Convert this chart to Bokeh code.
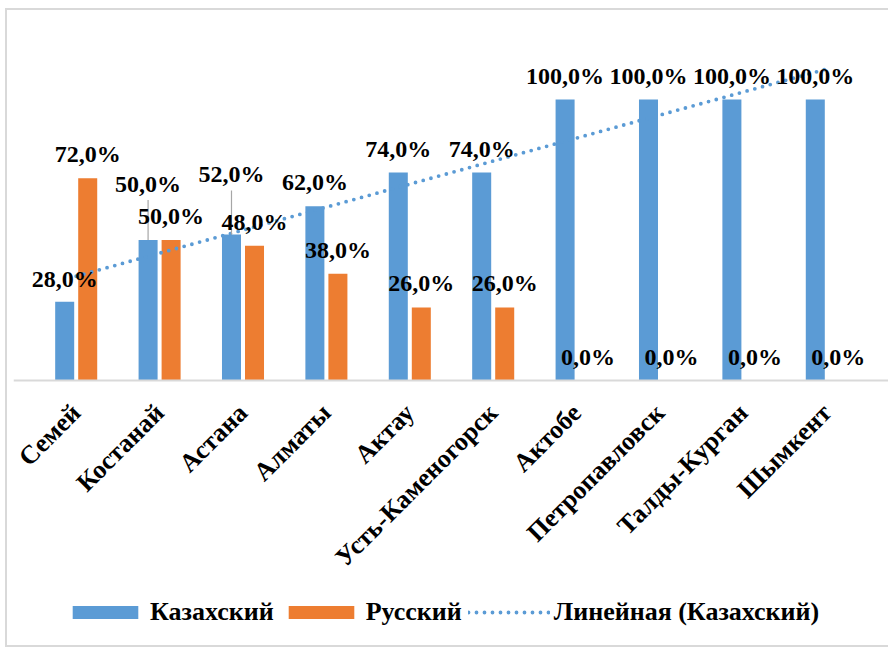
import numpy as np
from bokeh.plotting import figure
from bokeh.models import ColumnDataSource, FactorRange, Range1d, Legend, LegendItem
from bokeh.transform import dodge
from bokeh.core.properties import value
from bokeh.embed import file_html
from bokeh.resources import INLINE

cities = ["Семей", "Костанай", "Астана", "Алматы", "Актау", "Усть-Каменогорск",
          "Актобе", "Петропавловск", "Талды-Курган", "Шымкент"]
kazakh = [28, 50, 52, 62, 74, 74, 100, 100, 100, 100]
russian = [72, 50, 48, 38, 26, 26, 0, 0, 0, 0]

def fmt(v):
    return f"{v:.1f}%".replace(".", ",")

# linear trendline of the Kazakh series (Excel-style, from the data)
xi = np.arange(1, len(kazakh) + 1)
slope, intercept = np.polyfit(xi, kazakh, 1)
trend = list(slope * xi + intercept)

BLUE = "#5B9BD5"
ORANGE = "#ED7D31"
FONT = "Liberation Serif"
PX = 350 / 124.56          # pixels per percent
YMAX = 124.56
YMIN = -265 / PX           # room below the baseline for labels and legend
FRAME_H = int(round((YMAX - YMIN) * PX))
CAT_PX = 83.4
PAD_PX = 21
FRAME_W = int(round(len(cities) * CAT_PX + 2 * PAD_PX))

# label vertical offsets (px, layout only)
kz_off = [-23, -56, -60, -24, -24, -24, -24, -24, -24, -24]
ru_off = [-24] * len(russian)

src = ColumnDataSource(dict(city=cities, kz=kazakh, ru=russian,
                            kz_lab=[fmt(v) for v in kazakh],
                            ru_lab=[fmt(v) for v in russian],
                            kz_off=kz_off, ru_off=ru_off, trend=trend))

xr = FactorRange(*cities, range_padding=PAD_PX / CAT_PX,
                 range_padding_units="absolute")
p = figure(x_range=xr, y_range=Range1d(YMIN, YMAX),
           frame_width=FRAME_W, frame_height=FRAME_H,
           output_backend="svg", toolbar_location=None,
           min_border_left=6, min_border_right=0, min_border_top=20,
           min_border_bottom=0, background_fill_color="white",
           border_fill_color="white", outline_line_color=None,
           styles={"border": "2px solid #d9d9d9", "margin-left": "5px",
                   "margin-top": "8px"})

rb = p.vbar(x=dodge("city", -0.138, range=p.x_range), top="kz", width=0.228,
            source=src, fill_color=BLUE, line_color=None)
rr = p.vbar(x=dodge("city", 0.138, range=p.x_range), top="ru", width=0.228,
            source=src, fill_color=ORANGE, line_color=None)
rt = p.line(x="city", y="trend", source=src, line_color=BLUE, line_width=3.8,
            line_dash="0 8", line_cap="round")

# leader lines for moved labels (Костанай, Астана)
lead_idx = [1, 2]
lead_src = ColumnDataSource(dict(
    city=[cities[i] for i in lead_idx],
    y0=[kazakh[i] for i in lead_idx],
    y1=[kazakh[i] + (-kz_off[i] - 16) / PX for i in lead_idx]))
p.segment(x0=dodge("city", -0.138, range=p.x_range), y0="y0",
          x1=dodge("city", -0.138, range=p.x_range), y1="y1",
          source=lead_src, line_color="#a6a6a6", line_width=1.2)

for field, off, lab in [(-0.138, "kz_off", "kz_lab"), (0.138, "ru_off", "ru_lab")]:
    p.text(x=dodge("city", field, range=p.x_range), y="kz" if lab == "kz_lab" else "ru",
           text=lab, y_offset=off, source=src, text_align="center",
           text_baseline="middle", text_font=value(FONT), text_font_style="bold",
           text_font_size="24px", text_color="black")

p.yaxis.visible = False
p.xgrid.grid_line_color = None
p.ygrid.grid_line_color = None
p.xaxis.fixed_location = 0
p.xaxis.axis_line_color = "#d9d9d9"
p.xaxis.axis_line_width = 2
p.xaxis.major_tick_line_color = None
p.xaxis.minor_tick_line_color = None
p.xaxis.major_label_orientation = np.pi / 4
p.xaxis.major_label_standoff = 22
p.xaxis.major_label_text_font = FONT
p.xaxis.major_label_text_font_style = "bold"
p.xaxis.major_label_text_font_size = "26px"
p.xaxis.major_label_text_color = "black"

legend = Legend(items=[LegendItem(label="Казахский", renderers=[rb]),
                       LegendItem(label="Русский", renderers=[rr]),
                       LegendItem(label="Линейная (Казахский)", renderers=[rt])],
                orientation="horizontal", location=(51, 18),
                glyph_width=82, glyph_height=16, label_standoff=4, spacing=6,
                padding=0, margin=0, border_line_color=None,
                background_fill_alpha=0, label_text_font=FONT,
                label_text_font_style="bold", label_text_font_size="26px",
                label_text_color="black")
p.add_layout(legend, "center")

open("out.html", "w").write(file_html(p, INLINE))
